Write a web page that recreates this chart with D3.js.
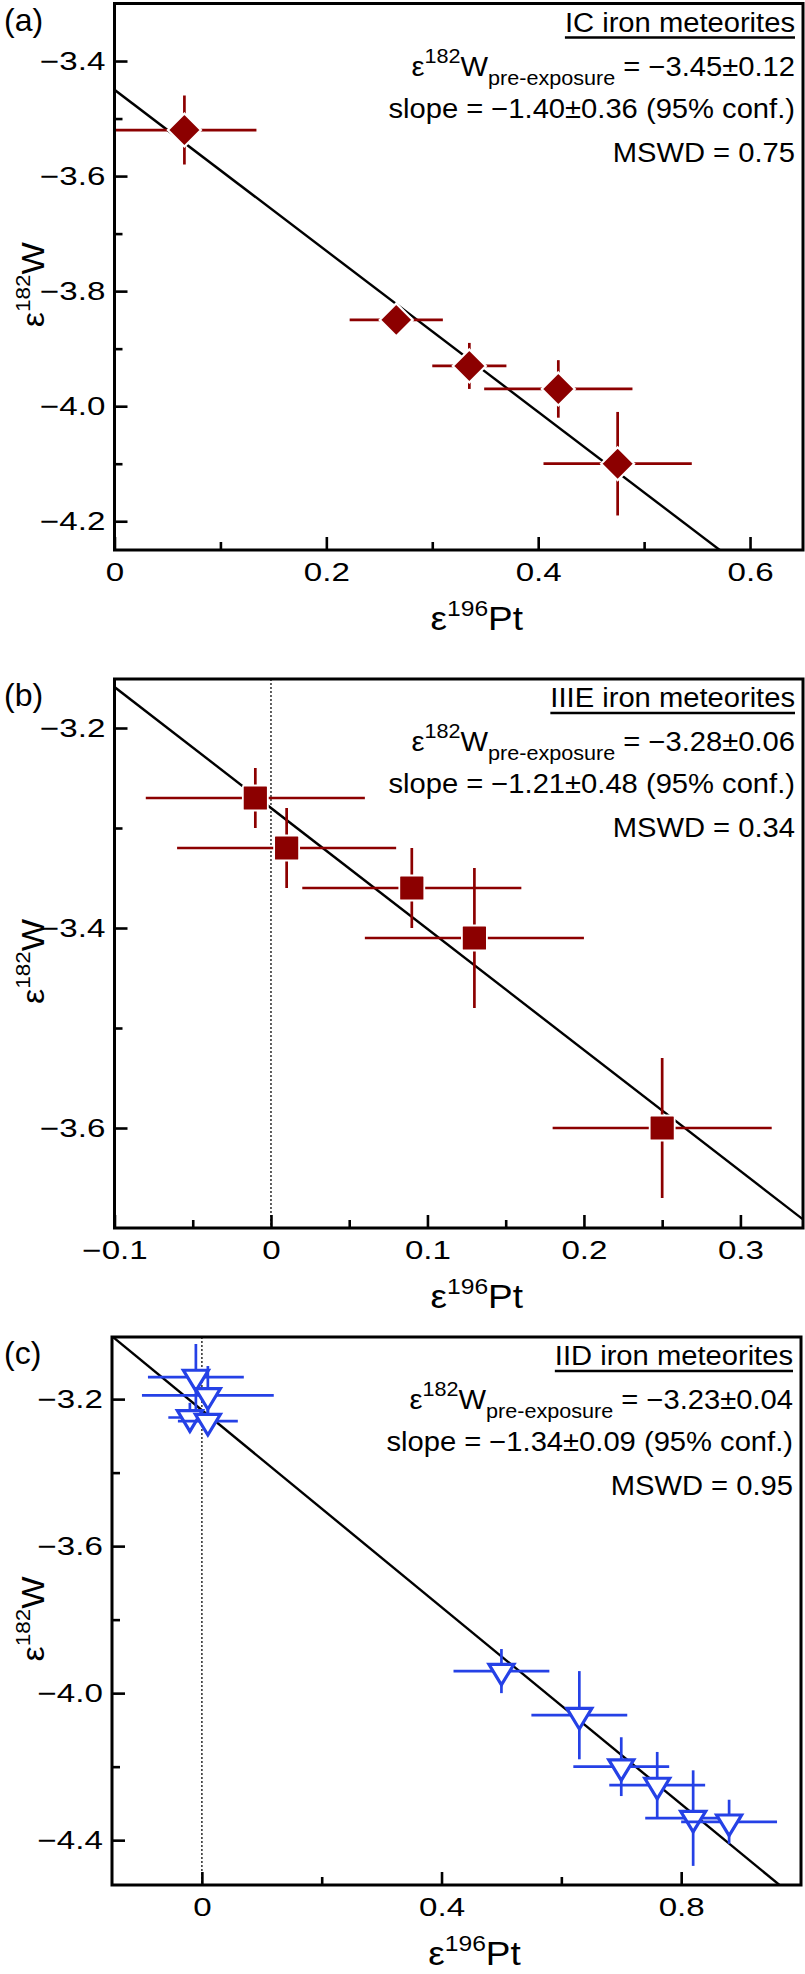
<!DOCTYPE html>
<html><head><meta charset="utf-8">
<script src="https://cdn.jsdelivr.net/npm/d3@7"></script>
<style>
body{margin:0;background:#fff}
svg{display:block}
</style>
</head><body>
<svg id="chart" width="805" height="1974"></svg>
<script>
// ================= DATA =================
// Panel (a) IC iron meteorites
const icPt    = [0.066, 0.266, 0.335, 0.419, 0.475];
const icW     = [-3.52, -3.85, -3.93, -3.97, -4.10];
const icPtErr = [0.068, 0.044, 0.035, 0.070, 0.070];
const icWErr  = [0.06, 0.02, 0.04, 0.05, 0.09];
const icFit   = [-3.45, -1.40];          // intercept, slope
const icTitle = "IC iron meteorites";
const icInter = "−3.45±0.12";
const icSlope = "−1.40±0.36";
const icMSWD  = "0.75";
const icXTicks = [0, 0.2, 0.4, 0.6];
const icXTickLabels = ["0", "0.2", "0.4", "0.6"];
const icXMinor = [0.1, 0.3, 0.5];
const icYTicks = [-3.4, -3.6, -3.8, -4.0, -4.2];
const icYTickLabels = ["−3.4", "−3.6", "−3.8", "−4.0", "−4.2"];
const icYMinor = [-3.5, -3.7, -3.9, -4.1];

// Panel (b) IIIE iron meteorites
const iiiePt    = [-0.01, 0.01, 0.09, 0.13, 0.25];
const iiieW     = [-3.27, -3.32, -3.36, -3.41, -3.60];
const iiiePtErr = [0.07, 0.07, 0.07, 0.07, 0.07];
const iiieWErr  = [0.03, 0.04, 0.04, 0.07, 0.07];
const iiieFit   = [-3.28, -1.21];
const iiieTitle = "IIIE iron meteorites";
const iiieInter = "−3.28±0.06";
const iiieSlope = "−1.21±0.48";
const iiieMSWD  = "0.34";
const iiieXTicks = [-0.1, 0, 0.1, 0.2, 0.3];
const iiieXTickLabels = ["−0.1", "0", "0.1", "0.2", "0.3"];
const iiieXMinor = [-0.05, 0.05, 0.15, 0.25];
const iiieYTicks = [-3.2, -3.4, -3.6];
const iiieYTickLabels = ["−3.2", "−3.4", "−3.6"];
const iiieYMinor = [-3.3, -3.5];

// Panel (c) IID iron meteorites
const iidPt    = [-0.01, 0.01, -0.02, 0.01, 0.50, 0.63, 0.70, 0.76, 0.82, 0.88];
const iidW     = [-3.14, -3.19, -3.25, -3.26, -3.94, -4.06, -4.20, -4.25, -4.34, -4.35];
const iidPtErr = [0.08, 0.11, 0.036, 0.05, 0.08, 0.08, 0.08, 0.08, 0.08, 0.08];
const iidWErr  = [0.09, 0.08, 0.04, 0.03, 0.06, 0.12, 0.08, 0.09, 0.13, 0.06];
const iidFit   = [-3.23, -1.34];
const iidTitle = "IID iron meteorites";
const iidInter = "−3.23±0.04";
const iidSlope = "−1.34±0.09";
const iidMSWD  = "0.95";
const iidXTicks = [0, 0.4, 0.8];
const iidXTickLabels = ["0", "0.4", "0.8"];
const iidXMinor = [0.2, 0.6];
const iidYTicks = [-3.2, -3.6, -4.0, -4.4];
const iidYTickLabels = ["−3.2", "−3.6", "−4.0", "−4.4"];
const iidYMinor = [-3.4, -3.8, -4.2];

// ================= LAYOUT / STYLE =================
const FONT = '"Liberation Sans", Arial, Helvetica, sans-serif';
const RED = "#8c0000";
const BLUE = "#2541e6";

const panels = [
  { tag: "(a)", box: {l: 114.5, r: 803, t: 3.5, b: 550}, xd: [0, 0.65], yd: [-4.25, -3.30],
    pt: icPt, w: icW, ptErr: icPtErr, wErr: icWErr, fit: icFit,
    title: icTitle, inter: icInter, slope: icSlope, mswd: icMSWD,
    xt: icXTicks, xtl: icXTickLabels, xm: icXMinor, yt: icYTicks, ytl: icYTickLabels, ym: icYMinor,
    marker: "diamond", color: RED, zero: false },
  { tag: "(b)", box: {l: 114.5, r: 803, t: 679, b: 1228}, xd: [-0.1, 0.34], yd: [-3.70, -3.151],
    pt: iiiePt, w: iiieW, ptErr: iiiePtErr, wErr: iiieWErr, fit: iiieFit,
    title: iiieTitle, inter: iiieInter, slope: iiieSlope, mswd: iiieMSWD,
    xt: iiieXTicks, xtl: iiieXTickLabels, xm: iiieXMinor, yt: iiieYTicks, ytl: iiieYTickLabels, ym: iiieYMinor,
    marker: "square", color: RED, zero: true },
  { tag: "(c)", box: {l: 112, r: 801, t: 1337, b: 1885}, xd: [-0.15, 1.0], yd: [-4.522, -3.031],
    pt: iidPt, w: iidW, ptErr: iidPtErr, wErr: iidWErr, fit: iidFit,
    title: iidTitle, inter: iidInter, slope: iidSlope, mswd: iidMSWD,
    xt: iidXTicks, xtl: iidXTickLabels, xm: iidXMinor, yt: iidYTicks, ytl: iidYTickLabels, ym: iidYMinor,
    marker: "triangle", color: BLUE, zero: true }
];

const svg = d3.select("#chart");

function sText(parent, x, y, sx, size, anchor, rotate) {
  const tr = `translate(${x},${y})` + (rotate ? ` rotate(${rotate})` : "") + ` scale(${sx},1)`;
  const gg = parent.append("g").attr("transform", tr);
  const t = gg.append("text").attr("x", 0).attr("y", 0)
    .attr("text-anchor", anchor).attr("font-size", size)
    .attr("font-family", FONT).attr("fill", "#000");
  return {gg, t};
}

panels.forEach((p, i) => {
  const {l, r, t, b} = p.box;
  const x = d3.scaleLinear().domain(p.xd).range([l, r]);
  const y = d3.scaleLinear().domain(p.yd).range([b, t]);
  const g = svg.append("g");

  const clipId = "clip" + i;
  svg.append("clipPath").attr("id", clipId).append("rect")
    .attr("x", l).attr("y", t).attr("width", r - l).attr("height", b - t);
  const plot = g.append("g").attr("clip-path", `url(#${clipId})`);

  if (p.zero) {
    plot.append("line").attr("x1", x(0)).attr("x2", x(0)).attr("y1", t).attr("y2", b)
      .attr("stroke", "#444").attr("stroke-width", 1.7).attr("stroke-dasharray", "2,2");
  }

  const [c0, c1] = p.fit;
  plot.append("line")
    .attr("x1", x(p.xd[0])).attr("y1", y(c0 + c1 * p.xd[0]))
    .attr("x2", x(p.xd[1])).attr("y2", y(c0 + c1 * p.xd[1]))
    .attr("stroke", "#000").attr("stroke-width", 2.4);

  p.pt.forEach((v, k) => {
    const pg = plot.append("g");
    const cx = x(v), cy = y(p.w[k]);
    pg.append("line").attr("x1", x(v - p.ptErr[k])).attr("x2", x(v + p.ptErr[k]))
      .attr("y1", cy).attr("y2", cy).attr("stroke", p.color).attr("stroke-width", 2.7);
    pg.append("line").attr("x1", cx).attr("x2", cx)
      .attr("y1", y(p.w[k] - p.wErr[k])).attr("y2", y(p.w[k] + p.wErr[k]))
      .attr("stroke", p.color).attr("stroke-width", 2.7);
    if (p.marker === "diamond") {
      const s = 16.5;
      pg.append("path").attr("transform", `translate(${cx},${cy})`)
        .attr("d", `M0,${-s}L${s},0L0,${s}L${-s},0Z`)
        .attr("fill", p.color).attr("stroke", "#fff").attr("stroke-width", 2.2);
    } else if (p.marker === "square") {
      const s = 12.5;
      pg.append("rect").attr("x", cx - s).attr("y", cy - s).attr("width", 2 * s).attr("height", 2 * s)
        .attr("rx", 1.5).attr("fill", p.color).attr("stroke", "#fff").attr("stroke-width", 1.8);
    } else {
      pg.append("path").attr("transform", `translate(${cx},${cy})`)
        .attr("d", "M-12.5,-6.8L12.5,-6.8L0,13.8Z")
        .attr("fill", "#fff").attr("stroke", p.color).attr("stroke-width", 3.2);
    }
  });

  // axes
  const TSX = 1.3;
  const bottomMajor = d3.axisBottom(x).tickValues(p.xt)
    .tickFormat(d => p.xtl[p.xt.indexOf(d)]).tickSizeInner(-13).tickSizeOuter(0).tickPadding(13);
  const bottomMinor = d3.axisBottom(x).tickValues(p.xm).tickFormat(() => "")
    .tickSizeInner(-8).tickSizeOuter(0);
  const leftMajor = d3.axisLeft(y).tickValues(p.yt)
    .tickFormat(d => p.ytl[p.yt.indexOf(d)]).tickSizeInner(-13).tickSizeOuter(0).tickPadding(7);
  const leftMinor = d3.axisLeft(y).tickValues(p.ym).tickFormat(() => "")
    .tickSizeInner(-8).tickSizeOuter(0);

  [[bottomMajor, `translate(0,${b})`], [bottomMinor, `translate(0,${b})`],
   [leftMajor, `translate(${l},0)`], [leftMinor, `translate(${l},0)`]].forEach(([ax, tr]) => {
    const ag = g.append("g").attr("transform", tr).call(ax);
    ag.select(".domain").remove();
    ag.selectAll(".tick line").attr("stroke", "#000").attr("stroke-width", 2.6);
    ag.selectAll(".tick text").attr("font-size", 25.5).attr("font-family", FONT)
      .attr("fill", "#000").attr("transform", `scale(${TSX},1)`);
  });

  // frame
  g.append("rect").attr("x", l).attr("y", t).attr("width", r - l).attr("height", b - t)
    .attr("fill", "none").attr("stroke", "#000").attr("stroke-width", 3);

  // x title
  {
    const {t: tt} = sText(g, (l + r) / 2 + 18, b + 80, 1.12, 33, "middle");
    tt.append("tspan").text("ε");
    tt.append("tspan").attr("font-size", 22).attr("dy", -14).text("196");
    tt.append("tspan").attr("dy", 14).text("Pt");
  }
  // y title
  {
    const {t: tt} = sText(g, 44, (t + b) / 2 + 8, 1.07, 32, "middle", -90);
    tt.append("tspan").text("ε");
    tt.append("tspan").attr("font-size", 21).attr("dy", -14).text("182");
    tt.append("tspan").attr("dy", 14).text("W");
  }
  // panel tag
  sText(g, 4, t + 27, 1, 32, "start").t.text(p.tag);

  // annotation block
  const rx = r - 8, SX = 1.08, FS = 27;
  {
    const {gg, t: tt} = sText(g, rx, t + 28, SX, FS, "end");
    tt.text(p.title);
    const bb = tt.node().getBBox();
    gg.append("line").attr("x1", bb.x).attr("x2", bb.x + bb.width).attr("y1", 6).attr("y2", 6)
      .attr("stroke", "#000").attr("stroke-width", 2.4);
  }
  {
    const {t: tt} = sText(g, rx, t + 72, SX, FS, "end");
    tt.append("tspan").text("ε");
    tt.append("tspan").attr("font-size", 20).attr("dy", -13).text("182");
    tt.append("tspan").attr("dy", 13).text("W");
    tt.append("tspan").attr("font-size", 20).attr("dy", 9).text("pre-exposure");
    tt.append("tspan").attr("dy", -9).text(" = " + p.inter);
  }
  sText(g, rx, t + 114, SX, FS, "end").t.text("slope = " + p.slope + " (95% conf.)");
  sText(g, rx, t + 158, SX, FS, "end").t.text("MSWD = " + p.mswd);
});
</script>
</body></html>
